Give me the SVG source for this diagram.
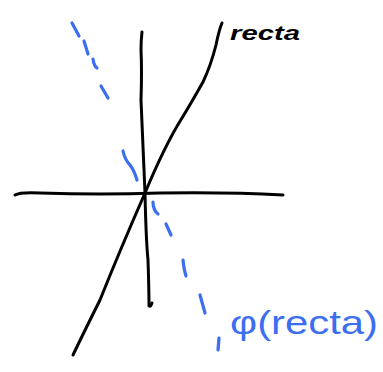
<svg xmlns="http://www.w3.org/2000/svg" width="383" height="372" viewBox="0 0 383 372">
<style>
.k{fill:none;stroke:#000;stroke-width:3;stroke-linecap:round;stroke-linejoin:round}
.b{fill:none;stroke:#3b6ef0;stroke-width:3.2;stroke-linecap:round;stroke-linejoin:round}
.lk{font-family:"Liberation Sans",sans-serif;font-weight:bold;font-style:italic;fill:#000}
.lb{font-family:"Liberation Sans",sans-serif;fill:#3b6ef0}
</style>
<rect width="383" height="372" fill="#fff"/>
<g id="connectors">
<path id="x-axis" class="k" d="M15,195 Q20,192 40,193 Q100,195 160,193 Q230,192 283,195"/>
<path id="y-axis" class="k" d="M142,32 Q141,40 141,50 Q142,70 141,100 Q143,150 145,193 Q146,240 148,260 Q149,290 149,306 Q151,307 152,303"/>
<path id="recta" class="k" d="M222,23 Q219,30 216,45 Q211,65 203,82 Q190,105 182,118 Q165,145 145,193 Q120,250 100,300 Q85,330 73,355"/>
<g id="phi-recta">
<path class="b" d="M72,23 L79,36"/>
<path class="b" d="M84,41 L88,54"/>
<path class="b" d="M93,59 Q94,66 97,68"/>
<path class="b" d="M101,86 L108,98"/>
<path class="b" d="M123,151 Q125,160 130,165 Q134,170 137,180"/>
<path class="b" d="M153,202 Q153,210 158,214"/>
<path class="b" d="M166,224 L171,235"/>
<path class="b" d="M183,260 Q184,270 186,276"/>
<path class="b" d="M200,295 L205,313"/>
<path class="b" d="M219,338 L218,350"/>
</g>
</g>
<g id="label-recta"><text class="lk" x="230" y="40" font-size="20" textLength="70" lengthAdjust="spacingAndGlyphs">recta</text></g>
<g id="label-phi"><text class="lb" x="230" y="334" font-size="34" textLength="148" lengthAdjust="spacingAndGlyphs">φ(recta)</text></g>
</svg>
